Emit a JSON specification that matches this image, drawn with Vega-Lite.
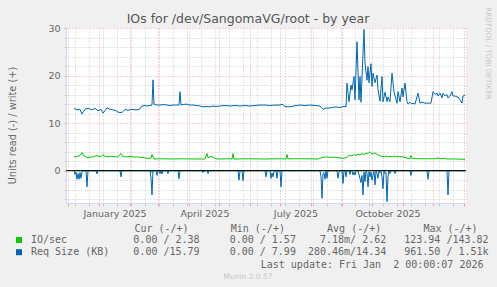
{
  "$schema": "https://vega.github.io/schema/vega-lite/v6.json",
  "width": 400,
  "height": 175,
  "autosize": {"type": "none"},
  "padding": {"left": 66, "top": 28, "right": 31, "bottom": 84},
  "background": "#f0f0f0",
  "title": {"text": "IOs for /dev/SangomaVG/root - by year", "font": "DejaVu Sans", "fontSize": 12.5, "fontWeight": "normal", "color": "#555555", "anchor": "middle", "frame": "group", "dx": -18, "dy": 29, "offset": 0, "baseline": "alphabetic"},
  "config": {
    "view": {"fill": "#ffffff", "stroke": null},
    "font": "DejaVu Sans"
  },
  "datasets": {
    "iw": [
      {"d": "2024-12-07", "v": 2.9}, {"d": "2024-12-10", "v": 3.0}, {"d": "2024-12-13", "v": 3.2}, {"d": "2024-12-15", "v": 3.85},
      {"d": "2024-12-17", "v": 3.1}, {"d": "2024-12-19", "v": 2.9}, {"d": "2024-12-21", "v": 2.7}, {"d": "2024-12-24", "v": 2.9},
      {"d": "2024-12-27", "v": 2.9}, {"d": "2024-12-29", "v": 3.2}, {"d": "2025-01-01", "v": 3.0}, {"d": "2025-01-03", "v": 2.95},
      {"d": "2025-01-05", "v": 3.4}, {"d": "2025-01-07", "v": 3.0}, {"d": "2025-01-09", "v": 2.9}, {"d": "2025-01-12", "v": 3.0},
      {"d": "2025-01-15", "v": 3.0}, {"d": "2025-01-18", "v": 2.9}, {"d": "2025-01-20", "v": 2.9}, {"d": "2025-01-23", "v": 3.6},
      {"d": "2025-01-25", "v": 2.95}, {"d": "2025-01-28", "v": 2.9}, {"d": "2025-02-01", "v": 3.0}, {"d": "2025-02-04", "v": 2.9},
      {"d": "2025-02-07", "v": 2.9}, {"d": "2025-02-10", "v": 2.85}, {"d": "2025-02-13", "v": 2.75}, {"d": "2025-02-16", "v": 2.7},
      {"d": "2025-02-18", "v": 2.6}, {"d": "2025-02-22", "v": 2.6}, {"d": "2025-02-23", "v": 3.4}, {"d": "2025-02-25", "v": 2.45},
      {"d": "2025-03-05", "v": 2.5}, {"d": "2025-03-15", "v": 2.45}, {"d": "2025-03-25", "v": 2.5}, {"d": "2025-04-05", "v": 2.45},
      {"d": "2025-04-17", "v": 2.45}, {"d": "2025-04-19", "v": 3.6}, {"d": "2025-04-20", "v": 2.7}, {"d": "2025-04-22", "v": 2.95},
      {"d": "2025-04-25", "v": 2.9}, {"d": "2025-04-27", "v": 2.6}, {"d": "2025-04-29", "v": 2.45}, {"d": "2025-05-10", "v": 2.5},
      {"d": "2025-05-14", "v": 2.45}, {"d": "2025-05-15", "v": 3.6}, {"d": "2025-05-16", "v": 2.45}, {"d": "2025-05-30", "v": 2.5},
      {"d": "2025-06-15", "v": 2.45}, {"d": "2025-07-01", "v": 2.5}, {"d": "2025-07-07", "v": 2.45}, {"d": "2025-07-08", "v": 3.4},
      {"d": "2025-07-09", "v": 2.5}, {"d": "2025-07-25", "v": 2.5}, {"d": "2025-08-08", "v": 2.45}, {"d": "2025-08-12", "v": 2.75},
      {"d": "2025-08-16", "v": 2.9}, {"d": "2025-08-20", "v": 2.8}, {"d": "2025-08-24", "v": 2.85}, {"d": "2025-08-28", "v": 2.75},
      {"d": "2025-09-01", "v": 2.6}, {"d": "2025-09-05", "v": 2.7}, {"d": "2025-09-07", "v": 3.0}, {"d": "2025-09-09", "v": 3.3},
      {"d": "2025-09-11", "v": 3.1}, {"d": "2025-09-13", "v": 3.4}, {"d": "2025-09-15", "v": 3.2}, {"d": "2025-09-17", "v": 3.5},
      {"d": "2025-09-19", "v": 3.3}, {"d": "2025-09-21", "v": 3.6}, {"d": "2025-09-23", "v": 3.4}, {"d": "2025-09-25", "v": 3.7},
      {"d": "2025-09-27", "v": 3.6}, {"d": "2025-09-29", "v": 4.0}, {"d": "2025-10-01", "v": 3.5}, {"d": "2025-10-03", "v": 3.7},
      {"d": "2025-10-05", "v": 3.6}, {"d": "2025-10-07", "v": 3.3}, {"d": "2025-10-09", "v": 3.1}, {"d": "2025-10-11", "v": 3.0},
      {"d": "2025-10-13", "v": 2.9}, {"d": "2025-10-15", "v": 3.1}, {"d": "2025-10-17", "v": 2.9}, {"d": "2025-10-19", "v": 3.0},
      {"d": "2025-10-21", "v": 2.9}, {"d": "2025-10-23", "v": 3.1}, {"d": "2025-10-25", "v": 2.9}, {"d": "2025-10-27", "v": 3.0},
      {"d": "2025-10-29", "v": 2.9}, {"d": "2025-10-31", "v": 3.0}, {"d": "2025-11-02", "v": 2.8}, {"d": "2025-11-06", "v": 2.6},
      {"d": "2025-11-08", "v": 2.5}, {"d": "2025-11-09", "v": 3.2}, {"d": "2025-11-10", "v": 2.55}, {"d": "2025-11-20", "v": 2.5},
      {"d": "2025-12-03", "v": 2.5}, {"d": "2025-12-06", "v": 2.7}, {"d": "2025-12-08", "v": 2.5}, {"d": "2025-12-12", "v": 2.6},
      {"d": "2025-12-15", "v": 2.45}, {"d": "2025-12-25", "v": 2.45}, {"d": "2026-01-02", "v": 2.38}
    ],
    "ir": [
      {"d": "2024-12-07", "v": 0}, {"d": "2025-02-22", "v": 0}, {"d": "2025-02-23", "v": -0.4}, {"d": "2025-02-24", "v": 0}, {"d": "2026-01-02", "v": 0}
    ],
    "rw": [
      {"d": "2024-12-07", "v": 13.1}, {"d": "2024-12-10", "v": 12.8}, {"d": "2024-12-13", "v": 12.9}, {"d": "2024-12-15", "v": 11.9},
      {"d": "2024-12-18", "v": 12.9}, {"d": "2024-12-21", "v": 13.1}, {"d": "2024-12-25", "v": 12.8}, {"d": "2024-12-28", "v": 13.1},
      {"d": "2024-12-31", "v": 12.6}, {"d": "2025-01-03", "v": 12.9}, {"d": "2025-01-05", "v": 12.1}, {"d": "2025-01-09", "v": 13.2},
      {"d": "2025-01-12", "v": 12.9}, {"d": "2025-01-15", "v": 12.8}, {"d": "2025-01-18", "v": 12.6}, {"d": "2025-01-20", "v": 12.3},
      {"d": "2025-01-24", "v": 12.2}, {"d": "2025-01-27", "v": 12.9}, {"d": "2025-01-30", "v": 12.7}, {"d": "2025-02-03", "v": 12.9},
      {"d": "2025-02-06", "v": 12.8}, {"d": "2025-02-09", "v": 12.8}, {"d": "2025-02-11", "v": 13.0}, {"d": "2025-02-13", "v": 13.6},
      {"d": "2025-02-16", "v": 13.7}, {"d": "2025-02-18", "v": 13.6}, {"d": "2025-02-23", "v": 13.8}, {"d": "2025-02-24", "v": 19.1},
      {"d": "2025-02-25", "v": 14.0}, {"d": "2025-02-28", "v": 13.8}, {"d": "2025-03-03", "v": 13.8}, {"d": "2025-03-06", "v": 13.9},
      {"d": "2025-03-10", "v": 13.8}, {"d": "2025-03-13", "v": 13.7}, {"d": "2025-03-16", "v": 13.8}, {"d": "2025-03-20", "v": 13.8},
      {"d": "2025-03-22", "v": 13.8}, {"d": "2025-03-23", "v": 16.6}, {"d": "2025-03-24", "v": 13.8}, {"d": "2025-03-29", "v": 14.0},
      {"d": "2025-04-02", "v": 13.8}, {"d": "2025-04-05", "v": 13.8}, {"d": "2025-04-09", "v": 13.7}, {"d": "2025-04-12", "v": 13.6},
      {"d": "2025-04-15", "v": 13.4}, {"d": "2025-04-19", "v": 13.5}, {"d": "2025-04-22", "v": 13.4}, {"d": "2025-04-25", "v": 13.6},
      {"d": "2025-04-28", "v": 13.5}, {"d": "2025-05-02", "v": 13.6}, {"d": "2025-05-07", "v": 13.7}, {"d": "2025-05-12", "v": 13.6},
      {"d": "2025-05-17", "v": 13.7}, {"d": "2025-05-22", "v": 13.6}, {"d": "2025-05-27", "v": 13.7}, {"d": "2025-06-01", "v": 13.6},
      {"d": "2025-06-06", "v": 13.7}, {"d": "2025-06-11", "v": 13.8}, {"d": "2025-06-16", "v": 13.8}, {"d": "2025-06-21", "v": 13.7},
      {"d": "2025-06-26", "v": 13.8}, {"d": "2025-07-01", "v": 13.8}, {"d": "2025-07-03", "v": 14.0}, {"d": "2025-07-06", "v": 13.5},
      {"d": "2025-07-09", "v": 13.4}, {"d": "2025-07-13", "v": 13.5}, {"d": "2025-07-17", "v": 13.7}, {"d": "2025-07-21", "v": 13.8},
      {"d": "2025-07-26", "v": 13.7}, {"d": "2025-07-31", "v": 13.8}, {"d": "2025-08-05", "v": 13.7}, {"d": "2025-08-10", "v": 13.6},
      {"d": "2025-08-13", "v": 12.9}, {"d": "2025-08-16", "v": 13.2}, {"d": "2025-08-18", "v": 13.1}, {"d": "2025-08-22", "v": 13.3},
      {"d": "2025-08-26", "v": 13.4}, {"d": "2025-08-30", "v": 13.3}, {"d": "2025-09-03", "v": 13.5}, {"d": "2025-09-05", "v": 13.4},
      {"d": "2025-09-06", "v": 18.4}, {"d": "2025-09-08", "v": 14.5}, {"d": "2025-09-10", "v": 18.0}, {"d": "2025-09-11", "v": 17.0},
      {"d": "2025-09-13", "v": 19.8}, {"d": "2025-09-14", "v": 14.9}, {"d": "2025-09-16", "v": 27.1}, {"d": "2025-09-18", "v": 14.9},
      {"d": "2025-09-19", "v": 19.8}, {"d": "2025-09-20", "v": 14.4}, {"d": "2025-09-22", "v": 24.7}, {"d": "2025-09-23", "v": 29.7},
      {"d": "2025-09-24", "v": 22.6}, {"d": "2025-09-26", "v": 19.0}, {"d": "2025-09-27", "v": 21.9}, {"d": "2025-09-28", "v": 18.5},
      {"d": "2025-09-30", "v": 22.5}, {"d": "2025-10-01", "v": 17.7}, {"d": "2025-10-02", "v": 20.5}, {"d": "2025-10-04", "v": 18.5},
      {"d": "2025-10-06", "v": 20.1}, {"d": "2025-10-07", "v": 17.0}, {"d": "2025-10-09", "v": 14.6}, {"d": "2025-10-11", "v": 19.8},
      {"d": "2025-10-12", "v": 14.5}, {"d": "2025-10-14", "v": 16.5}, {"d": "2025-10-16", "v": 14.5}, {"d": "2025-10-17", "v": 15.5},
      {"d": "2025-10-19", "v": 14.5}, {"d": "2025-10-21", "v": 20.5}, {"d": "2025-10-23", "v": 16.6}, {"d": "2025-10-26", "v": 14.2},
      {"d": "2025-10-27", "v": 16.6}, {"d": "2025-10-29", "v": 14.5}, {"d": "2025-10-31", "v": 17.4}, {"d": "2025-11-01", "v": 15.5},
      {"d": "2025-11-03", "v": 18.4}, {"d": "2025-11-05", "v": 14.5}, {"d": "2025-11-06", "v": 14.0}, {"d": "2025-11-08", "v": 14.4},
      {"d": "2025-11-10", "v": 14.0}, {"d": "2025-11-11", "v": 14.2}, {"d": "2025-11-13", "v": 14.0}, {"d": "2025-11-16", "v": 16.3},
      {"d": "2025-11-18", "v": 14.2}, {"d": "2025-11-20", "v": 14.4}, {"d": "2025-11-23", "v": 14.2}, {"d": "2025-11-26", "v": 14.2},
      {"d": "2025-11-29", "v": 14.2}, {"d": "2025-12-01", "v": 16.6}, {"d": "2025-12-03", "v": 16.0}, {"d": "2025-12-05", "v": 16.3},
      {"d": "2025-12-06", "v": 15.7}, {"d": "2025-12-08", "v": 16.3}, {"d": "2025-12-10", "v": 15.3}, {"d": "2025-12-11", "v": 16.3},
      {"d": "2025-12-13", "v": 15.7}, {"d": "2025-12-15", "v": 16.0}, {"d": "2025-12-16", "v": 15.3}, {"d": "2025-12-18", "v": 15.7},
      {"d": "2025-12-20", "v": 16.6}, {"d": "2025-12-21", "v": 15.7}, {"d": "2025-12-23", "v": 15.7}, {"d": "2025-12-25", "v": 15.5},
      {"d": "2025-12-26", "v": 15.5}, {"d": "2025-12-28", "v": 14.9}, {"d": "2025-12-30", "v": 14.2}, {"d": "2025-12-31", "v": 15.7},
      {"d": "2026-01-02", "v": 15.9}
    ],
    "rr": [
      {"d": "2024-12-07", "v": 0}, {"d": "2024-12-08", "v": -0.8}, {"d": "2024-12-09", "v": -0.3}, {"d": "2024-12-10", "v": -1.8},
      {"d": "2024-12-11", "v": -0.6}, {"d": "2024-12-12", "v": -1.8}, {"d": "2024-12-13", "v": -0.4}, {"d": "2024-12-14", "v": -1.6},
      {"d": "2024-12-15", "v": -0.2}, {"d": "2024-12-16", "v": 0}, {"d": "2024-12-19", "v": 0}, {"d": "2024-12-20", "v": -3.4},
      {"d": "2024-12-21", "v": 0}, {"d": "2024-12-29", "v": 0}, {"d": "2024-12-30", "v": -0.7}, {"d": "2024-12-31", "v": 0},
      {"d": "2025-01-22", "v": 0}, {"d": "2025-01-23", "v": -1.3}, {"d": "2025-01-24", "v": 0}, {"d": "2025-02-21", "v": 0},
      {"d": "2025-02-22", "v": -1.5}, {"d": "2025-02-23", "v": -5.1}, {"d": "2025-02-24", "v": 0}, {"d": "2025-02-27", "v": 0},
      {"d": "2025-02-28", "v": -1.0}, {"d": "2025-03-01", "v": 0}, {"d": "2025-03-02", "v": 0}, {"d": "2025-03-03", "v": -0.6},
      {"d": "2025-03-04", "v": 0}, {"d": "2025-03-05", "v": -0.7}, {"d": "2025-03-06", "v": 0}, {"d": "2025-03-10", "v": 0},
      {"d": "2025-03-11", "v": -0.6}, {"d": "2025-03-12", "v": 0}, {"d": "2025-03-21", "v": 0}, {"d": "2025-03-22", "v": -1.7},
      {"d": "2025-03-23", "v": 0}, {"d": "2025-04-14", "v": 0}, {"d": "2025-04-15", "v": -0.4}, {"d": "2025-04-16", "v": 0},
      {"d": "2025-04-19", "v": 0}, {"d": "2025-04-20", "v": -0.6}, {"d": "2025-04-21", "v": 0}, {"d": "2025-05-20", "v": 0},
      {"d": "2025-05-21", "v": -2.0}, {"d": "2025-05-22", "v": 0}, {"d": "2025-05-24", "v": 0}, {"d": "2025-05-25", "v": -2.1},
      {"d": "2025-05-26", "v": 0}, {"d": "2025-06-16", "v": 0}, {"d": "2025-06-17", "v": -1.3}, {"d": "2025-06-18", "v": 0},
      {"d": "2025-06-21", "v": 0}, {"d": "2025-06-22", "v": -1.6}, {"d": "2025-06-23", "v": -0.5}, {"d": "2025-06-24", "v": -1.3},
      {"d": "2025-06-25", "v": 0}, {"d": "2025-06-27", "v": 0}, {"d": "2025-06-28", "v": -1.6}, {"d": "2025-06-29", "v": 0},
      {"d": "2025-07-01", "v": 0}, {"d": "2025-07-02", "v": -3.4}, {"d": "2025-07-03", "v": 0}, {"d": "2025-08-10", "v": 0},
      {"d": "2025-08-11", "v": -1.3}, {"d": "2025-08-12", "v": -5.8}, {"d": "2025-08-13", "v": -0.6}, {"d": "2025-08-14", "v": -0.4},
      {"d": "2025-08-15", "v": -1.8}, {"d": "2025-08-16", "v": 0}, {"d": "2025-08-17", "v": -1.6}, {"d": "2025-08-18", "v": 0},
      {"d": "2025-08-27", "v": 0}, {"d": "2025-08-28", "v": -1.6}, {"d": "2025-08-29", "v": -0.3}, {"d": "2025-08-30", "v": 0},
      {"d": "2025-09-01", "v": 0}, {"d": "2025-09-02", "v": -2.7}, {"d": "2025-09-03", "v": 0}, {"d": "2025-09-04", "v": 0},
      {"d": "2025-09-05", "v": -1.3}, {"d": "2025-09-06", "v": 0}, {"d": "2025-09-08", "v": 0}, {"d": "2025-09-09", "v": -0.8},
      {"d": "2025-09-10", "v": 0}, {"d": "2025-09-11", "v": 0}, {"d": "2025-09-12", "v": -0.9}, {"d": "2025-09-13", "v": -0.3},
      {"d": "2025-09-14", "v": -0.9}, {"d": "2025-09-15", "v": 0}, {"d": "2025-09-17", "v": 0}, {"d": "2025-09-20", "v": -2.5},
      {"d": "2025-09-21", "v": -1.0}, {"d": "2025-09-22", "v": -5.1}, {"d": "2025-09-23", "v": -0.3}, {"d": "2025-09-24", "v": -2.3},
      {"d": "2025-09-25", "v": 0}, {"d": "2025-09-26", "v": -0.6}, {"d": "2025-09-27", "v": -3.4}, {"d": "2025-09-28", "v": -0.2},
      {"d": "2025-09-29", "v": -1.3}, {"d": "2025-09-30", "v": -0.3}, {"d": "2025-10-01", "v": -2.0}, {"d": "2025-10-02", "v": -0.9},
      {"d": "2025-10-03", "v": -0.2}, {"d": "2025-10-04", "v": -3.0}, {"d": "2025-10-05", "v": 0}, {"d": "2025-10-06", "v": -0.6},
      {"d": "2025-10-07", "v": -1.6}, {"d": "2025-10-08", "v": 0}, {"d": "2025-10-09", "v": -0.5}, {"d": "2025-10-10", "v": -0.2},
      {"d": "2025-10-11", "v": -1.3}, {"d": "2025-10-12", "v": -3.8}, {"d": "2025-10-13", "v": 0}, {"d": "2025-10-14", "v": -0.6},
      {"d": "2025-10-15", "v": -0.4}, {"d": "2025-10-16", "v": -6.5}, {"d": "2025-10-17", "v": -1.3}, {"d": "2025-10-18", "v": 0},
      {"d": "2025-10-19", "v": -0.6}, {"d": "2025-10-20", "v": 0}, {"d": "2025-10-23", "v": 0}, {"d": "2025-10-24", "v": -0.6},
      {"d": "2025-10-25", "v": 0}, {"d": "2025-11-08", "v": 0}, {"d": "2025-11-09", "v": -1.0}, {"d": "2025-11-10", "v": 0},
      {"d": "2025-11-25", "v": 0}, {"d": "2025-11-26", "v": -1.8}, {"d": "2025-11-27", "v": 0}, {"d": "2025-12-15", "v": 0},
      {"d": "2025-12-16", "v": -5.1}, {"d": "2025-12-17", "v": 0}, {"d": "2026-01-02", "v": 0}
    ]
  },
  "resolve": {"axis": {"x": "independent", "y": "independent"}},
  "layer": [
    {
      "data": {"name": "ir"},
      "mark": {"type": "line", "color": "#00cc00", "strokeWidth": 1},
      "encoding": {
        "x": {
          "field": "d", "type": "temporal",
          "scale": {"type": "utc", "domain": [{"year": 2024, "month": 11, "date": 29, "utc": true}, {"year": 2026, "month": 1, "date": 3, "utc": true}]},
          "axis": {
            "orient": "bottom",
            "values": [
              {"year": 2024, "month": 12, "date": 1, "utc": true}, {"year": 2024, "month": 12, "date": 8, "utc": true}, {"year": 2024, "month": 12, "date": 22, "utc": true},
              {"year": 2025, "month": 1, "date": 1, "utc": true}, {"year": 2025, "month": 1, "date": 5, "utc": true}, {"year": 2025, "month": 1, "date": 19, "utc": true},
              {"year": 2025, "month": 2, "date": 1, "utc": true}, {"year": 2025, "month": 2, "date": 2, "utc": true}, {"year": 2025, "month": 2, "date": 16, "utc": true},
              {"year": 2025, "month": 3, "date": 1, "utc": true}, {"year": 2025, "month": 3, "date": 2, "utc": true}, {"year": 2025, "month": 3, "date": 16, "utc": true}, {"year": 2025, "month": 3, "date": 30, "utc": true},
              {"year": 2025, "month": 4, "date": 1, "utc": true}, {"year": 2025, "month": 4, "date": 13, "utc": true}, {"year": 2025, "month": 4, "date": 27, "utc": true},
              {"year": 2025, "month": 5, "date": 1, "utc": true}, {"year": 2025, "month": 5, "date": 11, "utc": true}, {"year": 2025, "month": 5, "date": 25, "utc": true},
              {"year": 2025, "month": 6, "date": 1, "utc": true}, {"year": 2025, "month": 6, "date": 8, "utc": true}, {"year": 2025, "month": 6, "date": 22, "utc": true},
              {"year": 2025, "month": 7, "date": 1, "utc": true}, {"year": 2025, "month": 7, "date": 6, "utc": true}, {"year": 2025, "month": 7, "date": 20, "utc": true},
              {"year": 2025, "month": 8, "date": 1, "utc": true}, {"year": 2025, "month": 8, "date": 3, "utc": true}, {"year": 2025, "month": 8, "date": 17, "utc": true}, {"year": 2025, "month": 8, "date": 31, "utc": true},
              {"year": 2025, "month": 9, "date": 1, "utc": true}, {"year": 2025, "month": 9, "date": 14, "utc": true}, {"year": 2025, "month": 9, "date": 28, "utc": true},
              {"year": 2025, "month": 10, "date": 1, "utc": true}, {"year": 2025, "month": 10, "date": 12, "utc": true}, {"year": 2025, "month": 10, "date": 26, "utc": true},
              {"year": 2025, "month": 11, "date": 1, "utc": true}, {"year": 2025, "month": 11, "date": 9, "utc": true}, {"year": 2025, "month": 11, "date": 23, "utc": true},
              {"year": 2025, "month": 12, "date": 1, "utc": true}, {"year": 2025, "month": 12, "date": 7, "utc": true}, {"year": 2025, "month": 12, "date": 21, "utc": true},
              {"year": 2026, "month": 1, "date": 1, "utc": true},
              {"year": 2025, "month": 1, "date": 16, "hours": 12, "utc": true}, {"year": 2025, "month": 4, "date": 16, "hours": 12, "utc": true},
              {"year": 2025, "month": 7, "date": 16, "hours": 12, "utc": true}, {"year": 2025, "month": 10, "date": 16, "hours": 12, "utc": true}
            ],
            "labelExpr": "utchours(datum.value) === 12 ? utcFormat(datum.value, '%B %Y') : ''",
            "labelOverlap": false, "labelFlush": false, "labelBound": false,
            "labelFont": "DejaVu Sans", "labelFontSize": 9.5, "labelColor": "#666666", "labelPadding": 2,
            "grid": true,
            "gridColor": {"condition": {"test": "utcdate(datum.value) === 1 && utchours(datum.value) === 0", "value": "#f4a0a0"}, "value": "#c8c8c8"},
            "gridOpacity": {"condition": {"test": "utchours(datum.value) === 12", "value": 0}, "value": 1},
            "gridDash": [1, 2],
            "tickSize": 3,
            "tickColor": {"condition": {"test": "utcdate(datum.value) === 1 && utchours(datum.value) === 0", "value": "#f4a0a0"}, "value": "#c8c8c8"},
            "tickOpacity": {"condition": {"test": "utchours(datum.value) === 12", "value": 0}, "value": 1},
            "domainColor": "#cfd6f8",
            "title": "Last\u00a0update:\u00a0Fri\u00a0Jan\u00a0\u00a02\u00a000:00:07\u00a02026",
            "titleFont": "DejaVu Sans Mono", "titleFontSize": 10, "titleFontWeight": "normal", "titleColor": "#666666",
            "titleX": 417, "titleY": 61, "titleAlign": "right", "titleBaseline": "middle"
          }
        },
        "y": {
          "field": "v", "type": "quantitative",
          "scale": {"domain": [-6.8, 30], "nice": false, "zero": false},
          "axis": {
            "orient": "left",
            "values": [-6, -4, -2, 0, 2, 4, 6, 8, 10, 12, 14, 16, 18, 20, 22, 24, 26, 28, 30],
            "labelExpr": "datum.value % 10 === 0 ? datum.label : ''",
            "labelOverlap": false, "labelFont": "DejaVu Sans", "labelFontSize": 9.5, "labelColor": "#666666", "labelPadding": 4,
            "grid": true,
            "gridColor": {"condition": {"test": "datum.value % 10 === 0", "value": "#f4a0a0"}, "value": "#c8c8c8"},
            "gridDash": [1, 2],
            "tickSize": 2,
            "tickColor": {"condition": {"test": "datum.value % 10 === 0", "value": "#f4a0a0"}, "value": "#c8c8c8"},
            "domainColor": "#cfd6f8",
            "title": "Units read (-) / write (+)",
            "titleFont": "DejaVu Sans", "titleFontSize": 9.8, "titleFontWeight": "normal", "titleColor": "#666666",
            "titleX": -53.5, "titleY": 97, "titleAngle": 270, "titleAlign": "center", "titleBaseline": "middle"
          }
        },
        "color": {
          "datum": "IO/sec", "type": "nominal",
          "scale": {"domain": ["IO/sec", "Req Size (KB)"], "range": ["#00cc00", "#0066b3"]},
          "legend": {
            "orient": "none", "legendX": -52, "legendY": 196, "direction": "vertical", "padding": 0,
            "title": "\u200b\u00a0\u00a0\u00a0\u00a0\u00a0\u00a0\u00a0\u00a0\u00a0\u00a0\u00a0\u00a0\u00a0\u00a0\u00a0\u00a0\u00a0\u00a0\u00a0\u00a0Cur\u00a0(-/+)\u00a0\u00a0\u00a0\u00a0\u00a0\u00a0\u00a0Min\u00a0(-/+)\u00a0\u00a0\u00a0\u00a0\u00a0\u00a0\u00a0Avg\u00a0(-/+)\u00a0\u00a0\u00a0\u00a0\u00a0\u00a0\u00a0Max\u00a0(-/+)",
            "titleFont": "DejaVu Sans Mono", "titleFontSize": 10, "titleFontWeight": "normal", "titleColor": "#666666", "titleLimit": 1000, "titlePadding": 1,
            "labelFont": "DejaVu Sans Mono", "labelFontSize": 10, "labelColor": "#666666", "labelLimit": 1000, "labelOffset": 7,
            "labelExpr": "datum.label === 'IO/sec' ? 'IO/sec\u00a0\u00a0\u00a0\u00a0\u00a0\u00a0\u00a0\u00a0\u00a0\u00a0\u00a00.00\u00a0/\u00a02.38\u00a0\u00a0\u00a0\u00a0\u00a00.00\u00a0/\u00a01.57\u00a0\u00a0\u00a0\u00a07.18m/\u00a02.62\u00a0\u00a0\u00a0123.94\u00a0/143.82' : 'Req\u00a0Size\u00a0(KB)\u00a0\u00a0\u00a0\u00a00.00\u00a0/15.79\u00a0\u00a0\u00a0\u00a0\u00a00.00\u00a0/\u00a07.99\u00a0\u00a0280.46m/14.34\u00a0\u00a0\u00a0961.50\u00a0/\u00a01.51k'",
            "symbolType": "square", "symbolSize": 36, "rowPadding": 2.2,
            "encode": {"symbols": {"update": {"fill": {"scale": "color", "field": "value"}, "stroke": {"scale": "color", "field": "value"}, "strokeWidth": {"value": 0}, "opacity": {"value": 1}}}}
          }
        }
      }
    },
    {
      "data": {"name": "iw"},
      "mark": {"type": "line", "color": "#00cc00", "strokeWidth": 1},
      "encoding": {
        "x": {
          "field": "d", "type": "temporal",
          "scale": {"type": "utc", "domain": [{"year": 2024, "month": 11, "date": 29, "utc": true}, {"year": 2026, "month": 1, "date": 3, "utc": true}]},
          "axis": {"orient": "top", "labels": false, "ticks": false, "domain": false, "grid": false,
            "title": "Munin 2.0.57", "titleFont": "DejaVu Sans", "titleFontSize": 7.5, "titleFontWeight": "normal", "titleColor": "#c8c8c8",
            "titleX": 181.5, "titleY": 248, "titleAlign": "center", "titleBaseline": "middle"}
        },
        "y": {
          "field": "v", "type": "quantitative",
          "scale": {"domain": [-6.8, 30], "nice": false, "zero": false},
          "axis": {"orient": "right", "labels": false, "ticks": false, "domain": false, "grid": false,
            "title": "RRDTOOL / TOBI OETIKER", "titleFont": "DejaVu Sans", "titleFontSize": 7.2, "titleFontWeight": "normal", "titleColor": "#c8c8c8",
            "titleX": 21, "titleY": 25, "titleAngle": 90, "titleAlign": "center", "titleBaseline": "middle"}
        },
        "color": {"datum": "IO/sec", "type": "nominal", "scale": {"domain": ["IO/sec", "Req Size (KB)"], "range": ["#00cc00", "#0066b3"]}}
      }
    },
    {
      "data": {"name": "rr"},
      "mark": {"type": "line", "color": "#0066b3", "strokeWidth": 1},
      "encoding": {
        "x": {"field": "d", "type": "temporal", "scale": {"type": "utc", "domain": [{"year": 2024, "month": 11, "date": 29, "utc": true}, {"year": 2026, "month": 1, "date": 3, "utc": true}]}, "axis": null},
        "y": {"field": "v", "type": "quantitative", "scale": {"domain": [-6.8, 30], "nice": false, "zero": false}, "axis": null},
        "color": {"datum": "Req Size (KB)", "type": "nominal", "scale": {"domain": ["IO/sec", "Req Size (KB)"], "range": ["#00cc00", "#0066b3"]}}
      }
    },
    {
      "data": {"name": "rw"},
      "mark": {"type": "line", "color": "#0066b3", "strokeWidth": 1},
      "encoding": {
        "x": {"field": "d", "type": "temporal", "scale": {"type": "utc", "domain": [{"year": 2024, "month": 11, "date": 29, "utc": true}, {"year": 2026, "month": 1, "date": 3, "utc": true}]}, "axis": null},
        "y": {"field": "v", "type": "quantitative", "scale": {"domain": [-6.8, 30], "nice": false, "zero": false}, "axis": null},
        "color": {"datum": "Req Size (KB)", "type": "nominal", "scale": {"domain": ["IO/sec", "Req Size (KB)"], "range": ["#00cc00", "#0066b3"]}}
      }
    },
    {
      "data": {"values": [{}]},
      "mark": {"type": "rule", "color": "#000000", "strokeWidth": 1},
      "encoding": {
        "y": {"datum": 0, "type": "quantitative", "scale": {"domain": [-6.8, 30], "nice": false, "zero": false}, "axis": null}
      }
    }
  ]
}
